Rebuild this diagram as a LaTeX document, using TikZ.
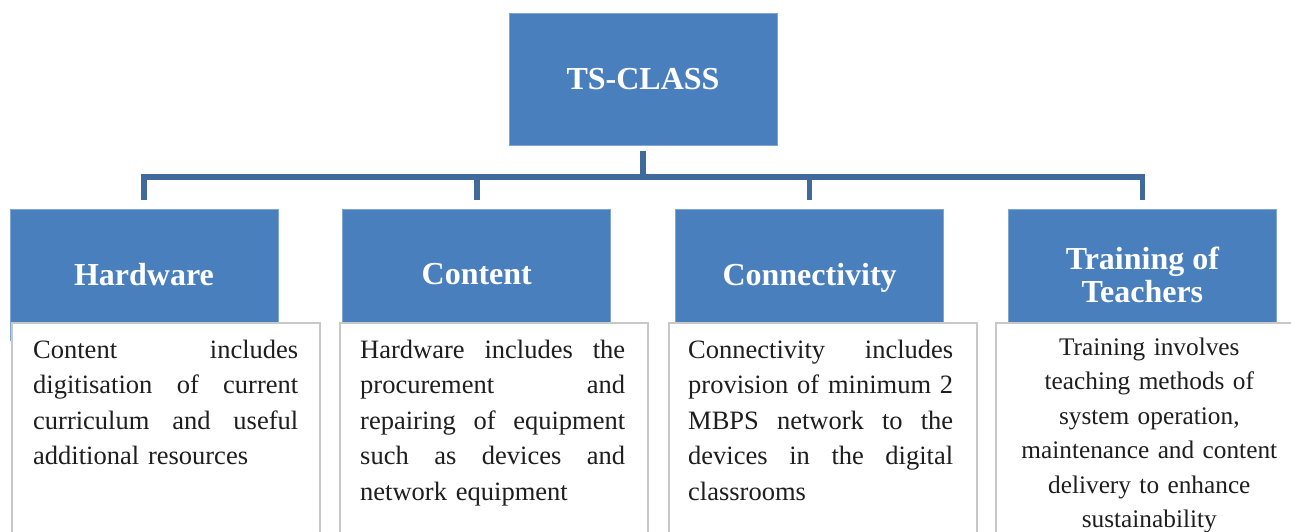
\documentclass[tikz,border=0pt]{standalone}
\usepackage{fontspec}
\setmainfont{Liberation Serif}
\usetikzlibrary{positioning, calc}

\definecolor{boxblue}{HTML}{4A7FBE}
\definecolor{edgeblue}{HTML}{7FA5D3}
\definecolor{linkblue}{HTML}{3F6A9B}
\definecolor{framegray}{HTML}{C8C8C8}
\definecolor{bodytext}{HTML}{1E1E1E}

% one justified line of a description
\newcommand{\fillline}[1]{\makebox[\linewidth][s]{\spaceskip=0pt\xspaceskip=0pt\relax #1}}

\begin{document}
\begin{tikzpicture}[x=1pt, y=-1pt,
    headbox/.style={rectangle, fill=boxblue, draw=edgeblue, line width=0.8pt,
      minimum width=268pt, minimum height=131pt, text=white, align=center,
      font=\fontsize{32}{33}\selectfont\bfseries},
    descbox/.style={rectangle, fill=white, draw=framegray, line width=1.6pt,
      minimum width=308pt, minimum height=240pt, anchor=north west},
    desctext/.style={text width=265pt, inner sep=0pt, align=left, text=bodytext,
      font=\fontsize{26.5}{35.5}\selectfont},
    link/.style={linkblue, line width=5.5pt}]
  \useasboundingbox (0,0) rectangle (1291,532);
  \clip (0,0) rectangle (1291,532);
  % Root
  \node[headbox, minimum height=132pt] (tsclass) at (643,79) {TS-CLASS};
  % Branches
  \node[headbox] (hardware) at (144,274.5) {Hardware};
  \node[headbox, right=64pt of hardware] (content) {Content};
  \node[headbox, right=64pt of content, text depth=0pt] (connectivity) {Connectivity};
  \node[headbox, right=64pt of connectivity] (training) {Training of\\Teachers};
  % Connectors
  \coordinate (bus) at (643,177);
  \draw[link] ([yshift=-6pt]tsclass.south) -- (bus);
  \draw[link] ([yshift=9pt]hardware.north) |- (bus) -| ([yshift=9pt]training.north);
  \draw[link] ([yshift=9pt]content.north) -- (content.north |- bus);
  \draw[link] ([yshift=9pt]connectivity.north) -- (connectivity.north |- bus);
  % Descriptions
  \node[descbox] (hwdesc) at (11,322) {};
  \node[descbox] (ctdesc) at (339,322) {};
  \node[descbox] (cndesc) at (668,322) {};
  \node[descbox] (trdesc) at (995,322) {};
  \node[desctext, anchor=base west] (hwtext) at ([xshift=22pt,yshift=-36pt]hwdesc.north west)
    {\fillline{Content includes}\\
     \fillline{digitisation of current}\\
     \fillline{curriculum and useful}\\
     additional resources};
  \node[desctext, anchor=base west] (cttext) at ([xshift=21pt,yshift=-36pt]ctdesc.north west)
    {\fillline{Hardware includes the}\\
     \fillline{procurement and}\\
     \fillline{repairing of equipment}\\
     \fillline{such as devices and}\\
     network equipment};
  \node[desctext, anchor=base west] (cntext) at ([xshift=20pt,yshift=-36pt]cndesc.north west)
    {\fillline{Connectivity includes}\\
     \fillline{provision of minimum 2}\\
     \fillline{MBPS network to the}\\
     \fillline{devices in the digital}\\
     classrooms};
  \node[desctext, anchor=base, align=center, text width=290pt,
    font=\fontsize{25.3}{34.5}\selectfont] (trtext) at ([xshift=-0.5pt,yshift=-33pt]trdesc.north)
    {Training involves\\
     teaching methods of\\
     system operation,\\
     maintenance and content\\
     delivery to enhance\\
     sustainability};
\end{tikzpicture}
\end{document}
